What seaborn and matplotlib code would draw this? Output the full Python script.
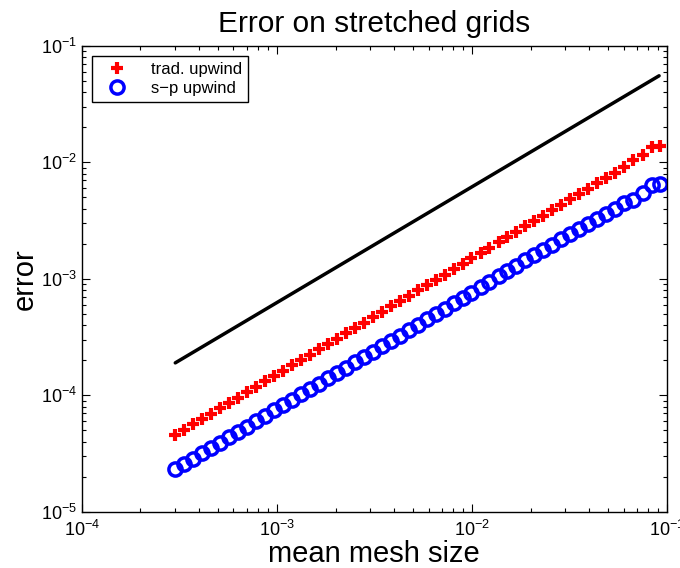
import numpy as np
import seaborn as sns
import matplotlib.pyplot as plt
from matplotlib.ticker import LogLocator, NullFormatter

# Dados (tamanho medio da malha e erro)
mesh_size = [3.02e-4, 3.36e-4, 3.73e-4, 4.15e-4, 4.61e-4, 5.13e-4, 5.70e-4, 6.34e-4,
             7.05e-4, 7.83e-4, 8.71e-4, 9.68e-4, 1.08e-3, 1.20e-3, 1.33e-3, 1.48e-3,
             1.64e-3, 1.83e-3, 2.03e-3, 2.26e-3, 2.51e-3, 2.79e-3, 3.10e-3, 3.45e-3,
             3.84e-3, 4.27e-3, 4.74e-3, 5.27e-3, 5.86e-3, 6.52e-3, 7.24e-3, 8.05e-3,
             8.95e-3, 9.95e-3, 1.11e-2, 1.23e-2, 1.37e-2, 1.52e-2, 1.69e-2, 1.88e-2,
             2.09e-2, 2.32e-2, 2.58e-2, 2.87e-2, 3.19e-2, 3.55e-2, 3.94e-2, 4.39e-2,
             4.88e-2, 5.42e-2, 6.03e-2, 6.70e-2, 7.55e-2, 8.36e-2, 9.20e-2]

err_trad = [4.56e-5, 5.07e-5, 5.63e-5, 6.27e-5, 6.96e-5, 7.75e-5, 8.61e-5, 9.57e-5,
            1.06e-4, 1.18e-4, 1.32e-4, 1.46e-4, 1.63e-4, 1.81e-4, 2.01e-4, 2.23e-4,
            2.48e-4, 2.76e-4, 3.07e-4, 3.41e-4, 3.79e-4, 4.21e-4, 4.68e-4, 5.21e-4,
            5.80e-4, 6.45e-4, 7.16e-4, 7.96e-4, 8.85e-4, 9.85e-4, 1.09e-3, 1.22e-3,
            1.35e-3, 1.50e-3, 1.67e-3, 1.86e-3, 2.07e-3, 2.30e-3, 2.55e-3, 2.84e-3,
            3.16e-3, 3.50e-3, 3.90e-3, 4.33e-3, 4.82e-3, 5.36e-3, 5.95e-3, 6.63e-3,
            7.37e-3, 8.18e-3, 9.10e-3, 1.04e-2, 1.16e-2, 1.37e-2, 1.38e-2]

err_sp = [2.31e-5, 2.57e-5, 2.85e-5, 3.17e-5, 3.53e-5, 3.92e-5, 4.36e-5, 4.85e-5,
          5.39e-5, 5.99e-5, 6.66e-5, 7.41e-5, 8.24e-5, 9.16e-5, 1.02e-4, 1.13e-4,
          1.26e-4, 1.40e-4, 1.55e-4, 1.73e-4, 1.92e-4, 2.13e-4, 2.37e-4, 2.64e-4,
          2.93e-4, 3.26e-4, 3.63e-4, 4.03e-4, 4.48e-4, 4.98e-4, 5.54e-4, 6.16e-4,
          6.85e-4, 7.61e-4, 8.46e-4, 9.41e-4, 1.05e-3, 1.16e-3, 1.29e-3, 1.44e-3,
          1.60e-3, 1.77e-3, 1.97e-3, 2.19e-3, 2.42e-3, 2.68e-3, 2.98e-3, 3.30e-3,
          3.62e-3, 4.00e-3, 4.45e-3, 4.80e-3, 5.50e-3, 6.40e-3, 6.50e-3]

# Reta de referencia (primeira ordem)
ref_x = [3.02e-4, 9.10e-2]
ref_y = [1.90e-4, 5.55e-2]

sns.set_theme(style="ticks")
plt.rcParams['font.family'] = ['Liberation Sans', 'DejaVu Sans']
plt.rcParams['mathtext.fontset'] = 'custom'
plt.rcParams['mathtext.rm'] = 'Liberation Sans'
plt.rcParams['mathtext.it'] = 'Liberation Sans:italic'
plt.rcParams['text.color'] = 'black'
plt.rcParams['axes.labelcolor'] = 'black'

fig, ax = plt.subplots(figsize=(6.8, 5.68), dpi=100)
fig.subplots_adjust(left=0.12, right=0.981, top=0.919, bottom=0.099)

sns.lineplot(x=ref_x, y=ref_y, color="black", linewidth=2.5, ax=ax)
sns.lineplot(x=mesh_size, y=err_trad, color="red", linestyle="", marker="+",
             markersize=8, markeredgewidth=3, markeredgecolor="red",
             label="trad. upwind", ax=ax)
sns.lineplot(x=mesh_size, y=err_sp, color="blue", linestyle="", marker="o",
             markersize=9.5, markeredgewidth=2.5, markerfacecolor="none",
             markeredgecolor="blue", label="s\u2212p upwind", ax=ax)

ax.set_xscale("log")
ax.set_yscale("log")
ax.set_xlim(1e-4, 1e-1)
ax.set_ylim(1e-5, 1e-1)

# Ticks estilo MATLAB
ax.xaxis.set_major_locator(LogLocator(base=10, numticks=10))
ax.yaxis.set_major_locator(LogLocator(base=10, numticks=10))
ax.xaxis.set_minor_locator(LogLocator(base=10, subs=np.arange(2, 10), numticks=20))
ax.yaxis.set_minor_locator(LogLocator(base=10, subs=np.arange(2, 10), numticks=20))
ax.xaxis.set_minor_formatter(NullFormatter())
ax.yaxis.set_minor_formatter(NullFormatter())
ax.tick_params(which="both", direction="in", top=True, right=True, colors="black",
               width=0.8, labelsize=13)
ax.tick_params(which="major", length=6)
ax.tick_params(which="minor", length=3)
ax.tick_params(axis="x", pad=6)
for s in ax.spines.values():
    s.set_color("black")
    s.set_linewidth(1.0)

ax.set_title("Error on stretched grids", fontsize=21.5, pad=10)
ax.set_xlabel("mean mesh size", fontsize=21, labelpad=0)
ax.set_ylabel("error", fontsize=21, labelpad=1)

leg = ax.legend(loc="upper left", fontsize=12, frameon=True, fancybox=False,
                edgecolor="black", framealpha=1, borderaxespad=0.6,
                handlelength=2.4, borderpad=0.35, labelspacing=0.25)
leg.get_frame().set_linewidth(1.0)

fig.savefig("out.png", dpi=100)
